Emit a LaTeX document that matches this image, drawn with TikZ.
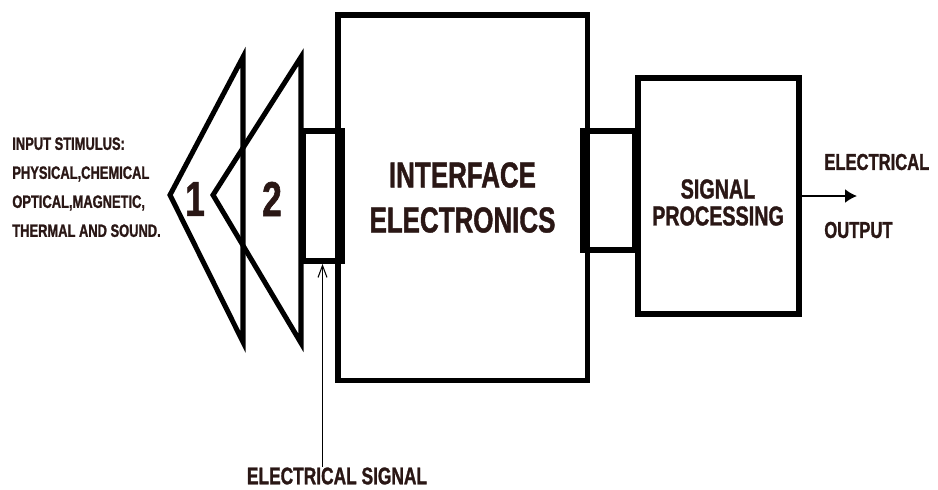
\documentclass[tikz,border=0pt]{standalone}
\usepackage{fontspec}
\setmainfont{Liberation Sans}[FakeStretch=0.72,FakeBold=1.2]
\usepackage{tikz}
\usetikzlibrary{arrows.meta,positioning}
\definecolor{ink}{HTML}{2A1715}
\tikzset{
  block/.style={draw=black,line width=3.4pt,inner sep=0pt,align=center,
    font=\bfseries,text=ink},
  tag/.style={inner sep=0pt,font=\bfseries,text=ink},
  chevron/.style={draw=black,line width=2.85pt,line join=miter},
  arrow/.style={-{Latex[length=0.24cm,width=0.28cm]},line width=1.1pt}
}
\begin{document}
\begin{tikzpicture}[
  sensor/.style={block,minimum width=0.78cm,minimum height=2.6cm},
  digit/.style={tag,font=\bfseries\fontsize{28pt}{28pt}\selectfont}
]
  \useasboundingbox (0,0) rectangle (18.76,-9.78);

  % sensing stages
  \draw[chevron] (3.4,-3.9) -- (4.86,-1.14) -- (4.86,-6.84) -- cycle;
  \draw[chevron] (4.26,-3.9) -- (6.02,-1.14) -- (6.02,-6.86) -- cycle;
  \node[digit] (one) at (3.9,-3.98) {1};
  \node[digit] (two) at (5.44,-3.98) {2};

  \node[tag,align=left,anchor=north west,
    font=\bfseries\fontsize{10.2pt}{16.5pt}\selectfont] (stimulus) at (0.24,-2.74)
    {INPUT STIMULUS:\\PHYSICAL,CHEMICAL\\OPTICAL,MAGNETIC,\\THERMAL AND SOUND.};

  \node[block,line width=2.85pt,minimum width=4.98cm,minimum height=7.3cm,
    font=\bfseries\fontsize{20.5pt}{25.6pt}\selectfont] (iface) at (9.25,-3.95)
    {INTERFACE\\ELECTRONICS};
  \node[sensor] (sens) at (6.45,-3.92) {};
  \node[block,minimum width=1.04cm,minimum height=2.38cm] (conv) at (12.18,-3.81) {};

  \node[block,minimum width=3.22cm,minimum height=4.72cm] (sp) at (14.37,-3.92) {};
  \node[tag,align=center,font=\bfseries\fontsize{15.6pt}{15.4pt}\selectfont]
    (sptext) at (14.36,-4.05) {SIGNAL\\PROCESSING};

  % output
  \coordinate (out) at (17.14,-3.92);
  \draw[arrow] (sp.east) -- (out);
  \node[tag,anchor=west,font=\bfseries\fontsize{13.1pt}{13.1pt}\selectfont]
    (outtop) at (16.48,-3.24) {ELECTRICAL};
  \node[tag,anchor=west,font=\bfseries\fontsize{13.1pt}{13.1pt}\selectfont]
    (outbot) at (16.48,-4.6) {OUTPUT};

  \node[tag,font=\bfseries\fontsize{13.7pt}{13.7pt}\selectfont] (sig) at (6.74,-9.52)
    {ELECTRICAL SIGNAL};
  \draw[-{Straight Barb[length=0.24cm,width=0.18cm]},line width=0.6pt]
    (sens.south |- sig.north) -- (sens.south);
\end{tikzpicture}
\end{document}
